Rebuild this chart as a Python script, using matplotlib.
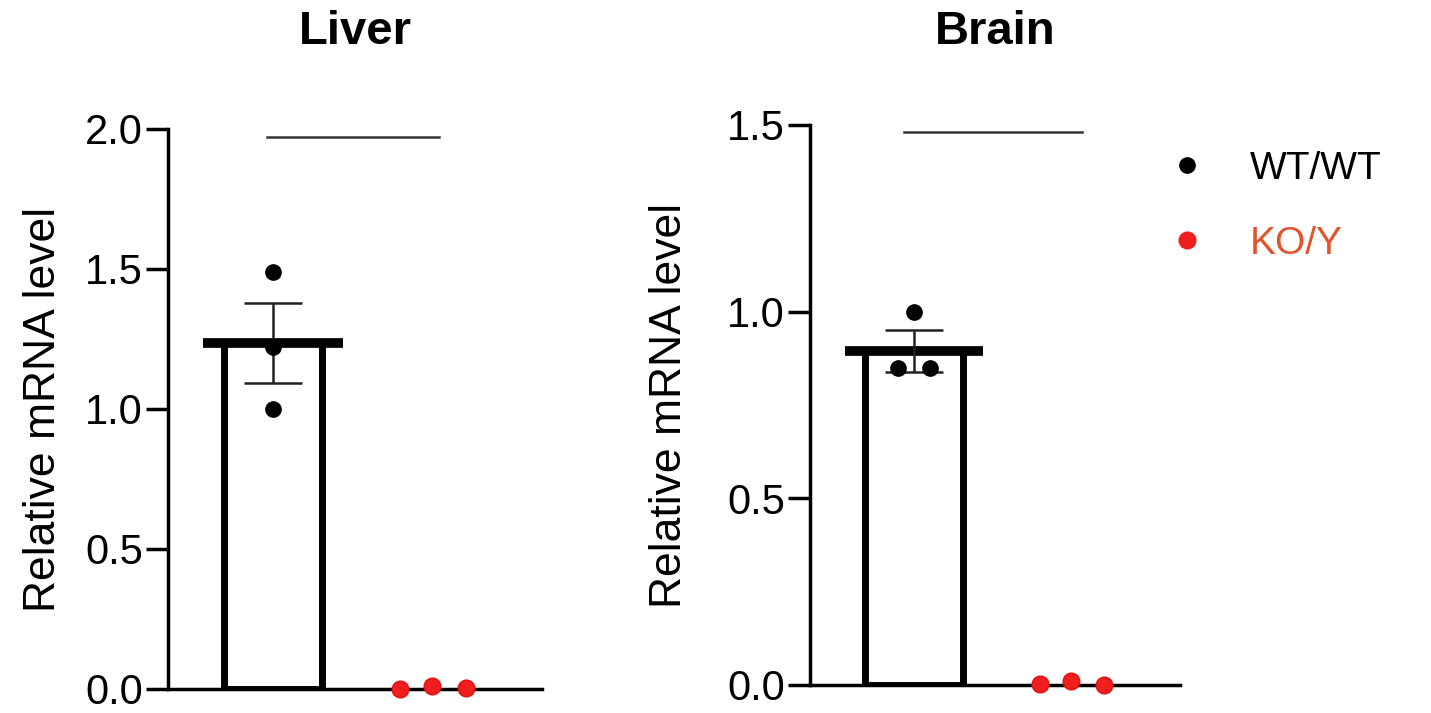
import numpy as np
import matplotlib
matplotlib.use("Agg")
import matplotlib.pyplot as plt

plt.rcParams['font.family'] = ['Liberation Sans', 'DejaVu Sans']

# values
tissues = ['Liver', 'Brain']
wt_points = [[1.49, 1.22, 1.00], [1.00, 0.85, 0.85]]
wt_offsets = [[0.0, 0.0, 0.0], [0.0, -0.10, 0.10]]
wt_mean = [1.235, 0.895]
wt_sem = [0.143, 0.056]
ko_points = [[0.0, 0.01, 0.005], [0.003, 0.012, 0.0]]
ko_offsets = [-0.2, 0.0, 0.21]
ymax = [2.0, 1.5]
yticks = [[0.0, 0.5, 1.0, 1.5, 2.0], [0.0, 0.5, 1.0, 1.5]]
sig_y = [1.97, 1.48]
sig_x = [[-0.04, 1.045], [-0.065, 1.07]]
ylabel_x = [-0.277, -0.325]
title_pad = [61, 58]

axes_pos = [[168/1431, 1-689/713, 374/1431, 560/713],
            [810/1431, 1-685/713, 370/1431, 560/713]]

red = '#f01e1e'
ko_text = '#e2532c'

fig = plt.figure(figsize=(14.31, 7.13), dpi=100)

for i, name in enumerate(tissues):
    ax = fig.add_axes(axes_pos[i])
    ax.bar(0, wt_mean[i], width=0.62, color='white', edgecolor='black',
           linewidth=5, zorder=2)
    ax.hlines(wt_mean[i], -0.44, 0.44, color='black', linewidth=7, zorder=3)
    ax.errorbar(0, wt_mean[i], yerr=wt_sem[i], fmt='none', ecolor='#222222',
                elinewidth=1.8, capsize=21, capthick=1.8, zorder=4)
    ax.plot(np.array(wt_offsets[i]), wt_points[i], 'o', color='black',
            markersize=11, zorder=5, clip_on=False)
    ax.plot(1 + np.array(ko_offsets), ko_points[i], 'o', color=red,
            markeredgecolor='#e01010', markersize=12, zorder=5, clip_on=False)
    ax.plot(sig_x[i], [sig_y[i], sig_y[i]], color='#333333', linewidth=1.8)

    ax.set_xlim(-0.66, 1.69)
    ax.set_ylim(0, ymax[i])
    ax.set_yticks(yticks[i])
    ax.set_yticklabels([f'{t:.1f}' for t in yticks[i]])
    ax.set_xticks([])
    for s in ['top', 'right']:
        ax.spines[s].set_visible(False)
    for s in ['left', 'bottom']:
        ax.spines[s].set_linewidth(2.5)
    ax.tick_params(axis='y', length=16, width=2.5, labelsize=30, pad=2)
    ax.set_ylabel('Relative mRNA level', fontsize=32)
    ax.yaxis.set_label_coords(ylabel_x[i], 0.5)
    ax.set_title(name, fontsize=34, fontweight='bold', pad=title_pad[i])

# legend
h1, = plt.plot([], [], 'o', color='black', markersize=11)
h2, = plt.plot([], [], 'o', color=red, markersize=12)
leg = fig.legend([h1, h2], ['WT/WT', 'KO/Y'], loc='upper left',
                 bbox_to_anchor=(1168/1431, 1-151/713), frameon=False,
                 fontsize=28, handletextpad=1.1, labelspacing=1.0,
                 handlelength=1.0, borderaxespad=0, borderpad=0)
leg.get_texts()[1].set_color(ko_text)

fig.savefig('out.png', dpi=100)
